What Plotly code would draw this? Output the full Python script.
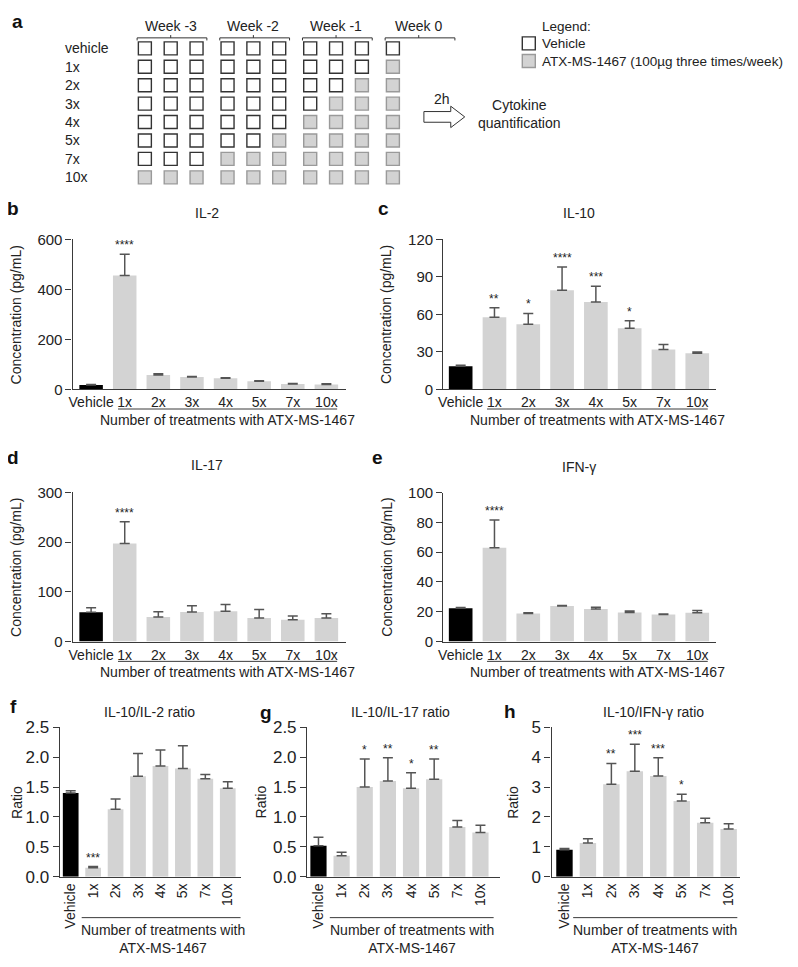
import plotly.graph_objects as go

# page body has an 8px margin, so the figure is sized to fill the rest of the window
OFF = 8
FW, FH = 790, 951
FONT = "Liberation Sans, Arial, sans-serif"
TXT = "#222222"
AX = "#3a3a3a"
GRAY = "#d3d3d3"

# ---------------- data ----------------
categories = ["Vehicle", "1x", "2x", "3x", "4x", "5x", "7x", "10x"]

il2 = [18, 456, 58, 50, 45, 33, 22, 20]
il2_err = [2, 85, 5, 2, 2, 2, 2, 3]
il2_sig = ["", "****", "", "", "", "", "", ""]

il10 = [18.5, 57.7, 52.2, 79.3, 70.0, 49.0, 31.9, 29.0]
il10_err = [0.8, 7.6, 8.6, 18.7, 12.5, 6.0, 4.1, 1.0]
il10_sig = ["", "**", "*", "****", "***", "*", "", ""]

il17 = [58.8, 197, 49.6, 59.4, 60.8, 47.6, 43.7, 47.6]
il17_err = [9, 44, 10.5, 12.5, 13.7, 17, 7.5, 8.5]
il17_sig = ["", "****", "", "", "", "", "", ""]

ifng = [22.4, 62.9, 18.8, 23.9, 21.9, 19.5, 18.2, 19.3]
ifng_err = [0.4, 18.7, 0.5, 0.3, 1.1, 1.1, 0.3, 1.5]
ifng_sig = ["", "****", "", "", "", "", "", ""]

ratio_il2 = [1.40, 0.15, 1.13, 1.68, 1.85, 1.81, 1.64, 1.48]
ratio_il2_err = [0.04, 0.02, 0.17, 0.38, 0.27, 0.38, 0.07, 0.11]
ratio_il2_sig = ["", "***", "", "", "", "", "", ""]

ratio_il17 = [0.52, 0.35, 1.50, 1.60, 1.48, 1.63, 0.83, 0.74]
ratio_il17_err = [0.14, 0.06, 0.47, 0.39, 0.26, 0.34, 0.11, 0.12]
ratio_il17_sig = ["", "", "*", "**", "*", "**", "", ""]

ratio_ifng = [0.90, 1.13, 3.09, 3.53, 3.37, 2.53, 1.81, 1.60]
ratio_ifng_err = [0.045, 0.14, 0.70, 0.90, 0.61, 0.23, 0.15, 0.17]
ratio_ifng_sig = ["", "", "**", "***", "***", "*", "", ""]

# schedule (panel a)
schedule_rows = ["vehicle", "1x", "2x", "3x", "4x", "5x", "7x", "10x"]
schedule_n = [0, 1, 2, 3, 4, 5, 7, 10]
weeks = ["Week -3", "Week -2", "Week -1", "Week 0"]
doses_per_week = [3, 3, 3, 1]
legend_items = ["Vehicle", "ATX-MS-1467 (100µg three times/week)"]


def px(x):
    return (x - OFF) / FW


def py(y):
    return 1 - (y - OFF) / FH


def font(size=14, color=TXT):
    return dict(size=size, color=color, family=FONT)


fig = go.Figure()
annotations = []
shapes = []
layout = {}

# ---------------- panel a (schematic) ----------------
WEEK_STEP = 3.2
col_x = []
for w, nd in enumerate(doses_per_week):
    for k in range(nd):
        col_x.append(w * WEEK_STEP + k)
ncol = len(col_x)

ex, ey, fx, fy = [], [], [], []
for r, n in enumerate(schedule_n):
    for c, xv in enumerate(col_x):
        if c >= ncol - n:
            fx.append(xv); fy.append(r)
        else:
            ex.append(xv); ey.append(r)

SQ = 13
fig.add_trace(go.Scatter(x=ex, y=ey, mode="markers", xaxis="x", yaxis="y",
                         marker=dict(symbol="square", size=SQ, color="white",
                                     line=dict(color="#333333", width=1.4)),
                         hoverinfo="skip", showlegend=False))
fig.add_trace(go.Scatter(x=fx, y=fy, mode="markers", xaxis="x", yaxis="y",
                         marker=dict(symbol="square", size=SQ, color=GRAY,
                                     line=dict(color="#9a9a9a", width=1.4)),
                         hoverinfo="skip", showlegend=False))

# week brackets
bx, by = [], []
for w, name in enumerate(weeks):
    x0 = w * WEEK_STEP - 0.3
    x1 = w * WEEK_STEP + 2 + 0.4
    xm = w * WEEK_STEP + 1
    bx += [x0, x0, x1, x1, None, xm, xm, None]
    by += [-0.43, -0.57, -0.57, -0.43, None, -0.57, -0.72, None]
    annotations.append(dict(x=xm, y=-1.22, xref="x", yref="y", text=name,
                            xanchor="center", yanchor="middle", showarrow=False, font=font(14)))
fig.add_trace(go.Scatter(x=bx, y=by, mode="lines", xaxis="x", yaxis="y",
                         line=dict(color="#333333", width=1), hoverinfo="skip",
                         showlegend=False))

for r, lab in enumerate(schedule_rows):
    annotations.append(dict(x=-3.18, y=r, xref="x", yref="y", text=lab, xanchor="left",
                            yanchor="middle", showarrow=False, font=font(14)))

# legend
leg_x = 14.86
fig.add_trace(go.Scatter(x=[leg_x], y=[-0.27], mode="markers", xaxis="x", yaxis="y",
                         marker=dict(symbol="square", size=SQ, color="white",
                                     line=dict(color="#333333", width=1.4)),
                         hoverinfo="skip", showlegend=False))
fig.add_trace(go.Scatter(x=[leg_x], y=[0.69], mode="markers", xaxis="x", yaxis="y",
                         marker=dict(symbol="square", size=SQ, color=GRAY,
                                     line=dict(color="#9a9a9a", width=1.4)),
                         hoverinfo="skip", showlegend=False))
for txt, yv in [("Legend:", -1.17), (legend_items[0], -0.27), (legend_items[1], 0.69)]:
    annotations.append(dict(x=15.3, y=yv, xref="x", yref="y", text=txt, xanchor="left",
                            yanchor="middle", showarrow=False, font=font(13.5)))

# hollow arrow (2h)
ax0, ax1, ax2 = 10.8, 11.84, 12.38  # shaft start, head start, tip
ayc = 3.72
arrow_x = [ax0, ax1, ax1, ax2, ax1, ax1, ax0, ax0]
arrow_y = [ayc - 0.29, ayc - 0.29, ayc - 0.58, ayc, ayc + 0.58, ayc + 0.29, ayc + 0.29, ayc - 0.29]
fig.add_trace(go.Scatter(x=arrow_x, y=arrow_y, mode="lines", xaxis="x", yaxis="y",
                         line=dict(color="#333333", width=1), hoverinfo="skip", showlegend=False))
annotations.append(dict(x=11.5, y=2.75, xref="x", yref="y", text="2h", xanchor="center",
                        yanchor="middle", showarrow=False, font=font(14)))
annotations.append(dict(x=14.5, y=3.58, xref="x", yref="y", text="Cytokine<br>quantification",
                        xanchor="center", yanchor="middle", showarrow=False, font=font(14)))

layout["xaxis"] = dict(domain=[0, 1], range=[-5.104, 25.28], visible=False, fixedrange=True)
layout["yaxis"] = dict(domain=[py(195), 1], range=[8.245, -1.702], visible=False, fixedrange=True)

annotations.append(dict(x=px(13), y=py(13), xref="paper", yref="paper", text="<b>a</b>",
                        xanchor="center", yanchor="middle", showarrow=False, font=font(19, "#111")))

# ---------------- bar panels ----------------
panels = [
    dict(letter="b", lpos=(8, 203), title="IL-2", tpos=(203, 208), vals=il2, errs=il2_err, sig=il2_sig,
         xd=(68, 343), yd=(235, 388), xr=(-0.55, 7.58), yr=600, tv=[0, 200, 400, 600], fmt="",
         ytitle="Concentration (pg/mL)", ytx=11, rot=False, line=(0.8, 7.32, 408), ntx=419, tick=15),
    dict(letter="c", lpos=(381, 203), title="IL-10", tpos=(578, 208), vals=il10, errs=il10_err, sig=il10_sig,
         xd=(441, 715), yd=(235, 388), xr=(-0.515, 7.54), yr=120, tv=[0, 30, 60, 90, 120], fmt="",
         ytitle="Concentration (pg/mL)", ytx=384, rot=False, line=(0.78, 7.31, 408), ntx=419, tick=15),
    dict(letter="d", lpos=(8, 457), title="IL-17", tpos=(203, 465), vals=il17, errs=il17_err, sig=il17_sig,
         xd=(68, 343), yd=(493, 645.3), xr=(-0.55, 7.58), yr=300, tv=[0, 100, 200, 300], fmt="",
         ytitle="Concentration (pg/mL)", ytx=11, rot=False, line=(0.8, 7.32, 665.5), ntx=676.5, tick=15),
    dict(letter="e", lpos=(375, 457), title="IFN-γ", tpos=(578, 467), vals=ifng, errs=ifng_err, sig=ifng_sig,
         xd=(441, 715), yd=(493.3, 645.3), xr=(-0.515, 7.54), yr=100, tv=[0, 20, 40, 60, 80, 100], fmt="",
         ytitle="Concentration (pg/mL)", ytx=384, rot=False, line=(0.78, 7.31, 665.5), ntx=676.5, tick=15),
    dict(letter="f", lpos=(8, 712), title="IL-10/IL-2 ratio", tpos=(145, 717), vals=ratio_il2, errs=ratio_il2_err,
         sig=ratio_il2_sig, xd=(55, 237), yd=(732.7, 885.3), xr=(-0.49, 7.57), yr=2.5,
         tv=[0, 0.5, 1.0, 1.5, 2.0, 2.5], fmt=".1f", ytitle="Ratio", ytx=12, rot=True,
         line=(0.49, 7.7, 927), ntx=949, tick=17),
    dict(letter="g", lpos=(263, 718), title="IL-10/IL-17 ratio", tpos=(398, 717), vals=ratio_il17,
         errs=ratio_il17_err, sig=ratio_il17_sig, xd=(304, 498), yd=(732.7, 885.3), xr=(-0.49, 7.84), yr=2.5,
         tv=[0, 0.5, 1.0, 1.5, 2.0, 2.5], fmt=".1f", ytitle="Ratio", ytx=258, rot=True,
         line=(0.49, 7.57, 927), ntx=949, tick=17),
    dict(letter="h", lpos=(508, 717), title="IL-10/IFN-γ ratio", tpos=(653, 717), vals=ratio_ifng,
         errs=ratio_ifng_err, sig=ratio_ifng_sig, xd=(550, 740), yd=(732.7, 885.3), xr=(-0.55, 7.5), yr=5,
         tv=[0, 1, 2, 3, 4, 5], fmt="", ytitle="Ratio", ytx=511, rot=True,
         line=(0.37, 7.37, 927), ntx=949, tick=17),
]

xidx = list(range(len(categories)))
bar_colors = ["#000000"] + [GRAY] * (len(categories) - 1)

for i, p in enumerate(panels, start=2):
    xa, ya = f"x{i}", f"y{i}"
    fig.add_trace(go.Bar(x=xidx, y=p["vals"], xaxis=xa, yaxis=ya, width=0.7,
                         marker=dict(color=bar_colors, line=dict(width=0)),
                         error_y=dict(type="data", symmetric=False, array=p["errs"],
                                      arrayminus=[0] * len(xidx), color="#555555",
                                      thickness=1.5, width=5),
                         hoverinfo="skip", showlegend=False))
    layout[f"xaxis{i}"] = dict(domain=[px(p["xd"][0]), px(p["xd"][1])], range=list(p["xr"]),
                               anchor=ya, showline=True, linecolor=AX, linewidth=1.3,
                               ticks="", tickvals=xidx, ticktext=categories,
                               tickangle=-90 if p["rot"] else 0, showgrid=False, zeroline=False,
                               tickfont=font(14), fixedrange=True)
    layout[f"yaxis{i}"] = dict(domain=[py(p["yd"][1]), py(p["yd"][0])], range=[0, p["yr"]],
                               anchor=xa, showline=True, linecolor=AX, linewidth=1.3,
                               ticks="outside", ticklen=6, tickwidth=1.3, tickcolor=AX,
                               tickvals=p["tv"], tickformat=p["fmt"], showgrid=False, zeroline=False,
                               tickfont=font(p["tick"]), fixedrange=True)
    for j, s in enumerate(p["sig"]):
        if s:
            annotations.append(dict(x=xidx[j], y=p["vals"][j] + p["errs"][j], xref=xa, yref=ya,
                                    text=s, showarrow=False, xanchor="center", yanchor="bottom",
                                    yshift=0, font=font(12)))
    annotations.append(dict(x=px(p["tpos"][0]), y=py(p["tpos"][1]), xref="paper", yref="paper",
                            text=p["title"], showarrow=False, xanchor="center", yanchor="middle",
                            font=font(14)))
    annotations.append(dict(x=px(p["lpos"][0]), y=py(p["lpos"][1]), xref="paper", yref="paper",
                            text=f"<b>{p['letter']}</b>", showarrow=False, xanchor="center",
                            yanchor="middle", font=font(19, "#111")))
    annotations.append(dict(x=px(p["ytx"]), y=py((p["yd"][0] + p["yd"][1]) / 2), xref="paper",
                            yref="paper", text=p["ytitle"], textangle=-90, showarrow=False,
                            xanchor="center", yanchor="middle", font=font(14)))
    lo, hi, yl = p["line"]
    shapes.append(dict(type="line", xref=xa, yref="paper", x0=lo, x1=hi, y0=py(yl), y1=py(yl),
                       line=dict(color=AX, width=1)))
    ntext = ("Number of treatments with<br>ATX-MS-1467" if p["rot"]
             else "Number of treatments with ATX-MS-1467")
    annotations.append(dict(x=(lo + hi) / 2, y=py(p["ntx"]), xref=xa, yref="paper", text=ntext,
                            showarrow=False, xanchor="center", yanchor="middle", font=font(14)))

fig.update_layout(width=FW, height=FH, margin=dict(l=0, r=0, t=0, b=0),
                  paper_bgcolor="white", plot_bgcolor="white",
                  font=dict(family=FONT, color=TXT), bargap=0.3,
                  annotations=annotations, shapes=shapes, showlegend=False, **layout)

fig.write_html("out.html")
